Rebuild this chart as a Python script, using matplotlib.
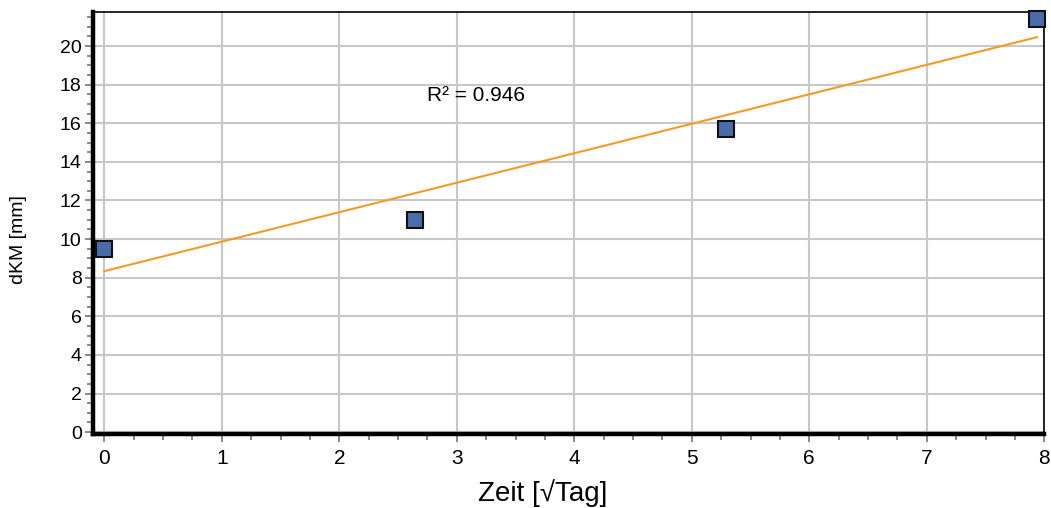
import numpy as np
import matplotlib
matplotlib.use("Agg")
import matplotlib.pyplot as plt
from matplotlib.ticker import MultipleLocator

plt.rcParams['font.family'] = ['Liberation Sans', 'DejaVu Sans']

# Measurements: time in sqrt(days), change in mm
days = [0, 7, 28, 63]
zeit = np.sqrt(days)
dkm = [9.5, 11.0, 15.7, 21.4]

# Linear trend line
slope, intercept = np.polyfit(zeit, dkm, 1)
pred = slope * zeit + intercept
r2 = 1 - np.sum((np.array(dkm) - pred) ** 2) / np.sum((np.array(dkm) - np.mean(dkm)) ** 2)

fig = plt.figure(figsize=(10.51, 5.08), dpi=100)
ax = fig.add_axes([0.0883, 0.1463, 0.9053, 0.8295])

ax.set_xlim(-0.098, 8.0)
ax.set_ylim(-0.08, 21.75)

ax.xaxis.set_major_locator(MultipleLocator(1))
ax.xaxis.set_minor_locator(MultipleLocator(0.25))
ax.yaxis.set_major_locator(MultipleLocator(2))
ax.yaxis.set_minor_locator(MultipleLocator(0.5))

ax.grid(True, which='major', color='#C8C8C8', linewidth=1.5, zorder=0)
ax.set_axisbelow(True)

xs = np.array([0, zeit[-1]])
ax.plot(xs, slope * xs + intercept, color='#F59A2A', linewidth=1.5, zorder=2)
ax.plot(zeit, dkm, linestyle='none', marker='s', markersize=11,
        markerfacecolor='#4A6CA8', markeredgecolor='#111111', markeredgewidth=1.5,
        zorder=3, clip_on=False)

ax.text(2.75, 17.45, f"R² = {r2:.3f}", fontsize=15, ha='left', va='center')

for side in ('left', 'bottom'):
    ax.spines[side].set_linewidth(3.2)
    ax.spines[side].set_color('black')
for side in ('top', 'right'):
    ax.spines[side].set_linewidth(1.2)
    ax.spines[side].set_color('black')

ax.tick_params(which='major', direction='out', length=6, width=1.3, color='#808080',
               labelsize=14, labelcolor='black', pad=2)
ax.tick_params(which='minor', direction='out', length=4, width=1.3, color='#808080')
ax.tick_params(axis='x', which='major', labelsize=15, pad=5)

fig.text(0.018, 1 - 240 / 508, 'dKM [mm]', fontsize=14, rotation=90,
         ha='center', va='center')
fig.text(0.516, 0.03, 'Zeit [√Tag]', fontsize=20, ha='center', va='center')

fig.savefig('out.png', dpi=100)
